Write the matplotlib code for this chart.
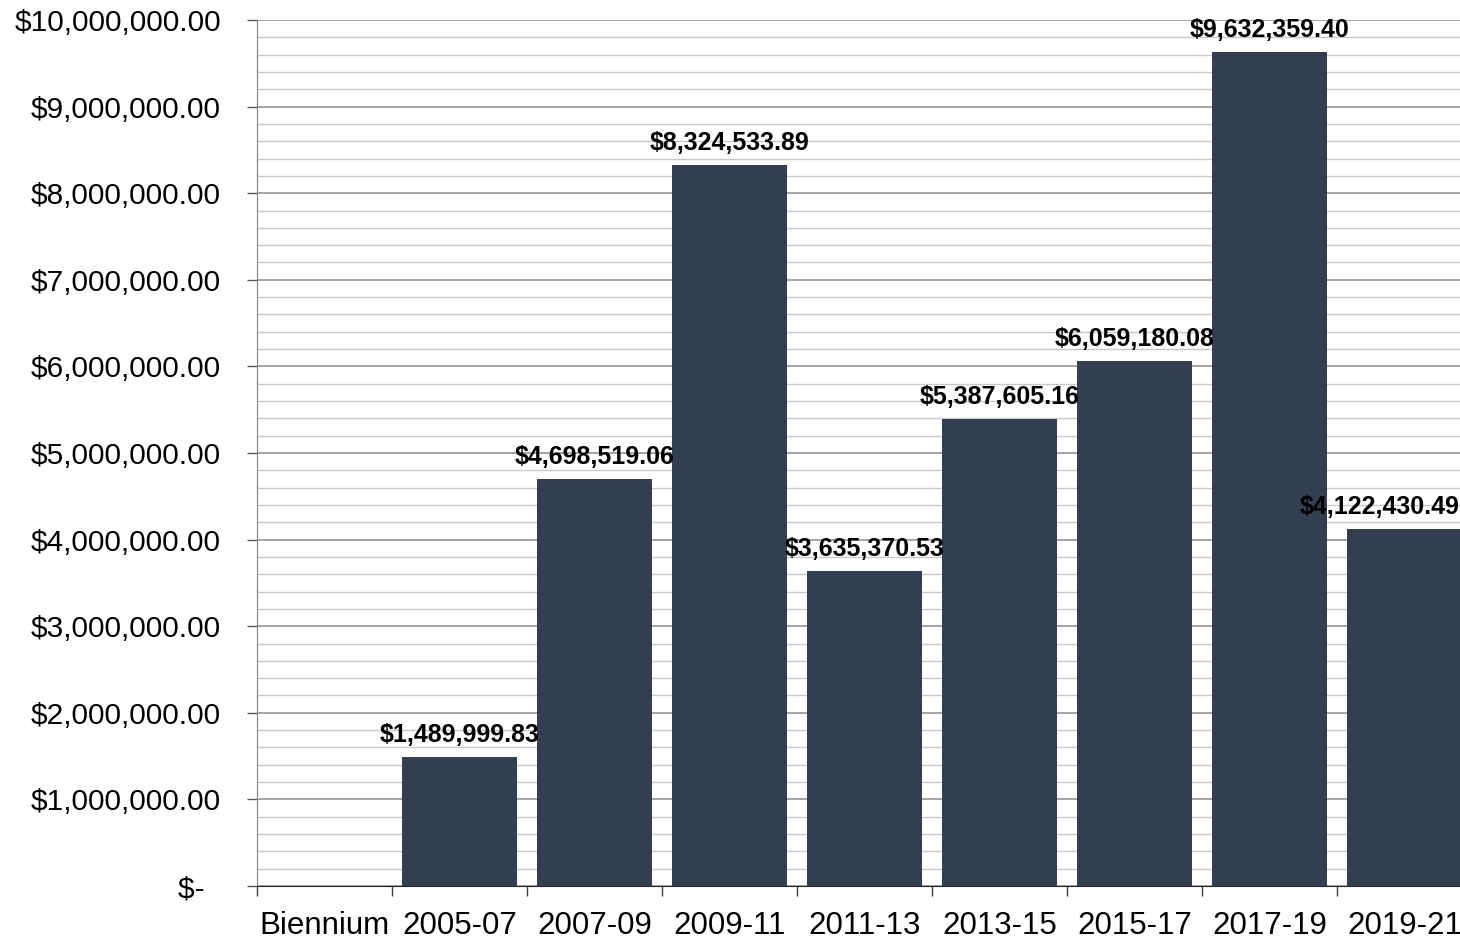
"""Biennium totals bar chart, rebuilt from a spreadsheet export."""

import matplotlib.pyplot as plt
from matplotlib.ticker import FuncFormatter, MultipleLocator

OUTPUT_PATH = "out.png"

categories = ["Biennium", "2005-07", "2007-09", "2009-11", "2011-13",
              "2013-15", "2015-17", "2017-19", "2019-21"]
amounts = [None, 1489999.83, 4698519.06, 8324533.89, 3635370.53,
           5387605.16, 6059180.08, 9632359.40, 4122430.49]

BAR_COLOR = "#333f50"


def money(value, _pos=None):
    """Accounting style: zero is shown as a dash."""
    if value == 0:
        return "$-  "
    return f"${value:,.2f}"


def main() -> None:
    plt.rcParams.update({"font.family": ["Liberation Sans", "DejaVu Sans"]})
    figure = plt.figure(figsize=(14.6, 9.39), dpi=100)
    axis = figure.add_axes([257 / 1460, 53 / 939, 1215 / 1460, 866 / 939])

    positions = [i for i, a in enumerate(amounts) if a is not None]
    heights = [a for a in amounts if a is not None]
    axis.bar(positions, heights, width=0.845, color=BAR_COLOR, zorder=3)

    last = positions[-1]
    for x, h in zip(positions, heights):
        style = dict(xytext=(0, 16), textcoords="offset points", va="center",
                     fontsize=18, fontweight="bold", color="black", zorder=5,
                     annotation_clip=False)
        if x == last:
            # the chart is cut at the right edge, so keep this label inside it
            axis.annotate(money(h), (1.0, h), xycoords=("figure fraction", "data"),
                          ha="right", **style)
        else:
            axis.annotate(money(h), (x, h), ha="center", **style)

    axis.set_xlim(-0.5, len(categories) - 0.5)
    axis.set_ylim(0, 10_000_000)

    axis.yaxis.set_major_locator(MultipleLocator(1_000_000))
    axis.yaxis.set_minor_locator(MultipleLocator(200_000))
    axis.yaxis.set_major_formatter(FuncFormatter(money))
    axis.grid(axis="y", which="major", color="#8c8c8c", linewidth=1.1, zorder=0)
    axis.grid(axis="y", which="minor", color="#c8c8c8", linewidth=1.0, zorder=0)
    axis.set_axisbelow(True)

    axis.set_xticks(range(len(categories)))
    axis.set_xticklabels(categories)
    axis.set_xticks([i - 0.5 for i in range(len(categories) + 1)], minor=True)

    axis.tick_params(axis="y", which="major", length=7, width=1, color="#595959",
                     labelsize=21.5, pad=19)
    axis.tick_params(axis="y", which="minor", length=0)
    axis.tick_params(axis="x", which="major", length=0, labelsize=22.5, pad=18)
    axis.tick_params(axis="x", which="minor", length=7, width=1, color="#404040")

    axis.spines[["top", "right"]].set_visible(False)
    axis.spines["left"].set_color("#7f7f7f")
    axis.spines["bottom"].set_color("#262626")

    figure.savefig(OUTPUT_PATH, dpi=100)
    plt.close(figure)


if __name__ == "__main__":
    main()
